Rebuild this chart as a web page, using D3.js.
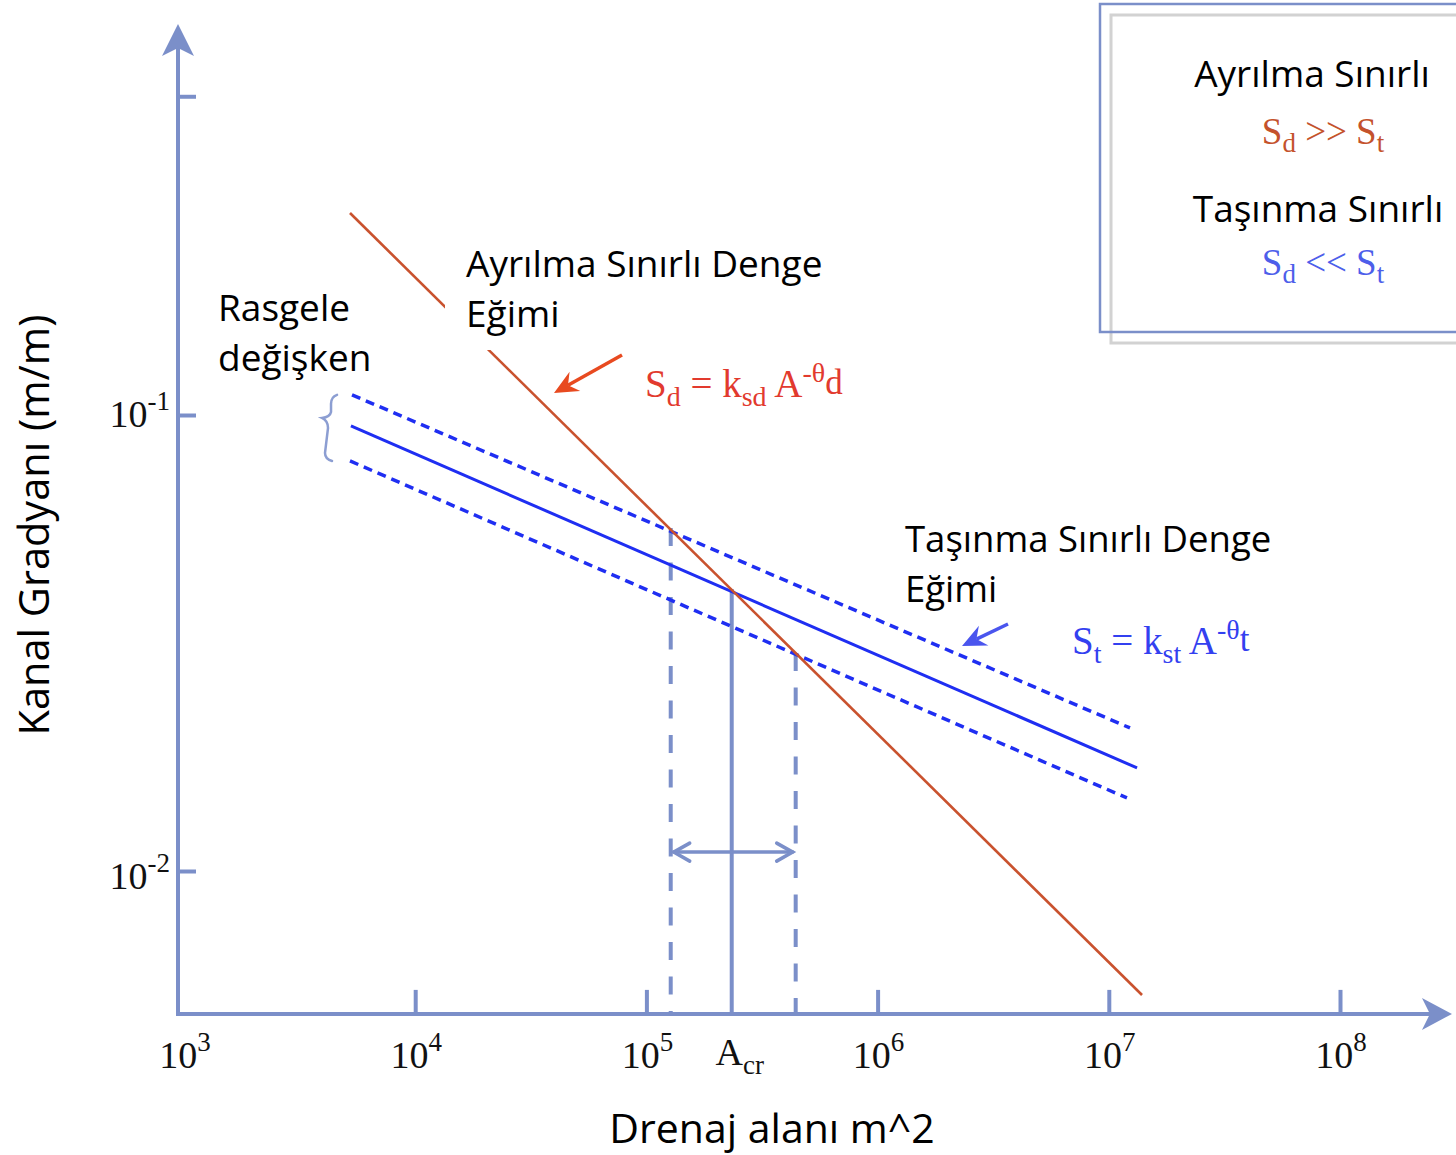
<!DOCTYPE html>
<html>
<head>
<meta charset="utf-8">
<script src="https://cdn.jsdelivr.net/npm/d3@7"></script>
<style>
  body { margin: 0; background: #fff; }
  svg { display: block; }
</style>
</head>
<body>
<svg id="chart" width="1456" height="1155"></svg>
<script>
// Equilibrium channel gradient (m/m) against drainage area (m^2), end points of each line
const detachmentLine = [{A: 5224, S: 0.2773}, {A: 1.392e7, S: 0.005346}];
const transportLine  = [{A: 5272, S: 0.0946}, {A: 1.325e7, S: 0.01683}];
const transportUpper = [{A: 5330, S: 0.1107}, {A: 1.235e7, S: 0.02059}];
const transportLower = [{A: 5224, S: 0.0793}, {A: 1.198e7, S: 0.01446}];

// Where the detachment line crosses the upper band, the mean line and the lower band
const crossAreas  = [1.274e5, 2.339e5, 4.423e5];
const crossSlopes = [0.05652, 0.04154, 0.03007];
const rangeSlope = 0.011;

// Axis ticks
const xTickValues = [1e3, 1e4, 1e5, 1e6, 1e7, 1e8];
const xTickExponents = ["3", "4", "5", "6", "7", "8"];
const yTickValues = [0.5, 0.1, 0.01];
const yTickExponents = ["", "-1", "-2"];
const xAxisExtent = [942, 3.05e8];
const yAxisExtent = [0.00486, 0.72];

const AXIS = "#7b8fc9";
const RED_LINE = "#c9522e";
const BLUE = "#1f2ef2";
const SANS = "'Open Sans', Lato, sans-serif";
const SERIF = "'Liberation Serif', 'DejaVu Serif', serif";

const svg = d3.select("#chart");

const x = d3.scaleLog().domain([1e3, 1e8]).range([184, 1340]);
const y = d3.scaleLog().domain([0.01, 0.1]).range([871, 415]);

const line = d3.line().x(d => x(d.A)).y(d => y(d.S));

// ---- axes -------------------------------------------------------------
const x0 = x(xAxisExtent[0]), x1 = x(xAxisExtent[1]);
const yb = y(yAxisExtent[0]), yt = y(yAxisExtent[1]);

svg.append("line")
  .attr("x1", x0).attr("x2", x1 - 18)
  .attr("y1", yb).attr("y2", yb)
  .attr("stroke", AXIS).attr("stroke-width", 4);
svg.append("line")
  .attr("x1", x0).attr("x2", x0)
  .attr("y1", yb + 2).attr("y2", yt + 18)
  .attr("stroke", AXIS).attr("stroke-width", 4);

// arrow heads on both axes
svg.append("path")
  .attr("d", `M${x1},${yb} L${x1 - 30},${yb - 16} L${x1 - 22},${yb} L${x1 - 30},${yb + 16} Z`)
  .attr("fill", AXIS);
svg.append("path")
  .attr("d", `M${x0},${yt} L${x0 - 16},${yt + 32} L${x0},${yt + 24} L${x0 + 16},${yt + 32} Z`)
  .attr("fill", AXIS);

// x ticks point upward from the axis
const xAxis = d3.axisBottom(x)
  .tickValues(xTickValues.slice(1))
  .tickSizeInner(-24).tickSizeOuter(0)
  .tickFormat("");
const gx = svg.append("g").attr("transform", `translate(0,${yb})`).call(xAxis);
gx.select(".domain").remove();
gx.selectAll(".tick line").attr("stroke", AXIS).attr("stroke-width", 4);

// y ticks point right from the axis
const yAxis = d3.axisLeft(y)
  .tickValues(yTickValues)
  .tickSizeInner(-18).tickSizeOuter(0)
  .tickFormat("");
const gy = svg.append("g").attr("transform", `translate(${x0},0)`).call(yAxis);
gy.select(".domain").remove();
gy.selectAll(".tick line").attr("stroke", AXIS).attr("stroke-width", 4);

// power-of-ten tick labels
xTickValues.forEach((v, i) => {
  const t = svg.append("text")
    .attr("x", x(v) + 1).attr("y", yb + 54)
    .attr("text-anchor", "middle")
    .attr("font-family", SERIF).attr("font-size", 38).attr("fill", "#111");
  t.append("tspan").text("10");
  t.append("tspan").attr("dy", -17).attr("font-size", 27).text(xTickExponents[i]);
});
yTickValues.forEach((v, i) => {
  if (!yTickExponents[i]) return;
  const t = svg.append("text")
    .attr("x", x0 - 8).attr("y", y(v) + (i === 2 ? 18 : 12))
    .attr("text-anchor", "end")
    .attr("font-family", SERIF).attr("font-size", 38).attr("fill", "#111");
  t.append("tspan").text("10");
  t.append("tspan").attr("dy", -17).attr("font-size", 27).text(yTickExponents[i]);
});

// critical area label
{
  const t = svg.append("text")
    .attr("x", x(crossAreas[1]) + 8).attr("y", yb + 51)
    .attr("text-anchor", "middle")
    .attr("font-family", SERIF).attr("font-size", 38).attr("fill", "#111");
  t.append("tspan").text("A");
  t.append("tspan").attr("dy", 9).attr("font-size", 27).text("cr");
}

// axis titles
svg.append("text")
  .attr("x", 772).attr("y", 1143)
  .attr("text-anchor", "middle")
  .attr("font-family", SANS).attr("font-size", 41).attr("fill", "#000")
  .text("Drenaj alanı m^2");
svg.append("text")
  .attr("transform", "translate(49,525) rotate(-90)")
  .attr("text-anchor", "middle")
  .attr("font-family", SANS).attr("font-size", 41.5).attr("fill", "#000")
  .text("Kanal Gradyanı (m/m)");

// ---- critical area markers ------------------------------------------------
[0, 2].forEach(i => {
  svg.append("line")
    .attr("x1", x(crossAreas[i])).attr("x2", x(crossAreas[i]))
    .attr("y1", y(crossSlopes[i])).attr("y2", yb)
    .attr("stroke", AXIS).attr("stroke-width", 4)
    .attr("stroke-dasharray", "18,16.5");
});
svg.append("line")
  .attr("x1", x(crossAreas[1])).attr("x2", x(crossAreas[1]))
  .attr("y1", y(crossSlopes[1])).attr("y2", yb)
  .attr("stroke", AXIS).attr("stroke-width", 4);

// double arrow spanning the crossing range
{
  const ya = y(rangeSlope);
  const xa = x(crossAreas[0]) + 3, xb = x(crossAreas[2]) - 3;
  const g = svg.append("g").attr("stroke", AXIS).attr("stroke-width", 3.5)
    .attr("fill", "none").attr("stroke-linecap", "round");
  g.append("line").attr("x1", xa).attr("x2", xb).attr("y1", ya).attr("y2", ya);
  g.append("path").attr("d", `M${xa + 16},${ya - 9} L${xa},${ya} L${xa + 16},${ya + 9}`);
  g.append("path").attr("d", `M${xb - 16},${ya - 9} L${xb},${ya} L${xb - 16},${ya + 9}`);
}

// ---- equilibrium lines ---------------------------------------------------
svg.append("path").attr("d", line(transportUpper))
  .attr("fill", "none").attr("stroke", BLUE).attr("stroke-width", 3.5)
  .attr("stroke-dasharray", "9,6");
svg.append("path").attr("d", line(transportLower))
  .attr("fill", "none").attr("stroke", BLUE).attr("stroke-width", 3.5)
  .attr("stroke-dasharray", "9,6");
svg.append("path").attr("d", line(transportLine))
  .attr("fill", "none").attr("stroke", BLUE).attr("stroke-width", 3);
svg.append("path").attr("d", line(detachmentLine))
  .attr("fill", "none").attr("stroke", RED_LINE).attr("stroke-width", 2.6);

// brace marking the spread of the transport band
{
  const xr = x(transportUpper[0].A) - 15;
  const ta = y(transportUpper[0].S), tb = y(transportLower[0].S);
  const mid = ta + (tb - ta) * 0.35;
  const d = `M${xr},${ta} Q${xr - 6},${ta + 2} ${xr - 6},${ta + 9}
             L${xr - 6},${mid - 6} Q${xr - 7},${mid - 1} ${xr - 15},${mid}
             Q${xr - 9},${mid + 3} ${xr - 9},${mid + 10}
             L${xr - 12},${tb - 8} Q${xr - 12},${tb - 2} ${xr - 5},${tb}`;
  svg.append("path").attr("d", d)
    .attr("fill", "none").attr("stroke", "#8c9ed2").attr("stroke-width", 2.5)
    .attr("stroke-linecap", "round");
}

// ---- annotations ------------------------------------------------------------
function pointer(xs, ys, xt, yt, color) {
  const ang = Math.atan2(yt - ys, xt - xs);
  const ux = Math.cos(ang), uy = Math.sin(ang);
  const px = -uy, py = ux;
  const L = 24, W = 11, N = 16;
  svg.append("line")
    .attr("x1", xs).attr("y1", ys)
    .attr("x2", xt - ux * N).attr("y2", yt - uy * N)
    .attr("stroke", color).attr("stroke-width", 3.5);
  svg.append("path")
    .attr("d", `M${xt},${yt} L${xt - ux * L + px * W},${yt - uy * L + py * W}
                L${xt - ux * N},${yt - uy * N}
                L${xt - ux * L - px * W},${yt - uy * L - py * W} Z`)
    .attr("fill", color);
}
pointer(622, 355, 554, 393, "#e84a20");
pointer(1008, 624, 962, 646, "#4a55ee");

// label boxes sit above the lines
svg.append("rect").attr("x", 445).attr("y", 232).attr("width", 385).attr("height", 118)
  .attr("fill", "#fff");

function multiline(xp, yp, lines, size, anchor) {
  lines.forEach((s, i) => {
    svg.append("text")
      .attr("x", xp).attr("y", yp + i * 50)
      .attr("text-anchor", anchor || "start")
      .attr("font-family", SANS).attr("font-size", size).attr("fill", "#000")
      .text(s);
  });
}
multiline(466, 277, ["Ayrılma Sınırlı Denge", "Eğimi"], 37);
multiline(218, 321, ["Rasgele", "değişken"], 37);
multiline(905, 552, ["Taşınma Sınırlı Denge", "Eğimi"], 36.5);

// formulas
function formula(xp, yp, color, base, sub, mid, sub2, expo, expoSub, size) {
  const s = size || 32, ss = Math.round(s * 0.72);
  const t = svg.append("text").attr("x", xp).attr("y", yp)
    .attr("font-family", SERIF).attr("font-size", s).attr("fill", color);
  t.append("tspan").text(base);
  t.append("tspan").attr("dy", 9).attr("font-size", ss).text(sub);
  t.append("tspan").attr("dy", -9).text(mid);
  t.append("tspan").attr("dy", 9).attr("font-size", ss).text(sub2);
  t.append("tspan").attr("dy", -9).text(" A");
  t.append("tspan").attr("dy", -15).attr("font-size", ss).text(expo);
  t.append("tspan").attr("dy", 12).attr("font-size", Math.round(s * 0.9)).text(expoSub);
  return t;
}
formula(645, 397, "#e23a2e", "S", "d", " = k", "sd", "-θ", "d", 39);
formula(1072, 654, "#3340f0", "S", "t", " = k", "st", "-θ", "t", 39);

// ---- legend box -------------------------------------------------------------
svg.append("rect").attr("x", 1111).attr("y", 15).attr("width", 420).attr("height", 328)
  .attr("fill", "none").attr("stroke", "#d2d2d2").attr("stroke-width", 3);
svg.append("rect").attr("x", 1100).attr("y", 4).attr("width", 420).attr("height", 328)
  .attr("fill", "none").attr("stroke", AXIS).attr("stroke-width", 2.5);

multiline(1312, 87, ["Ayrılma Sınırlı"], 37, "middle");
multiline(1318, 222, ["Taşınma Sınırlı"], 37, "middle");

function relation(cx, yp, color, op) {
  const t = svg.append("text").attr("x", cx).attr("y", yp)
    .attr("text-anchor", "middle")
    .attr("font-family", SERIF).attr("font-size", 37).attr("fill", color);
  t.append("tspan").text("S");
  t.append("tspan").attr("dy", 8).attr("font-size", 27).text("d");
  t.append("tspan").attr("dy", -8).text(" " + op + " S");
  t.append("tspan").attr("dy", 8).attr("font-size", 27).text("t");
}
relation(1323, 144, "#c4522c", ">>");
relation(1323, 275, "#4d5eea", "<<");
</script>
</body>
</html>
